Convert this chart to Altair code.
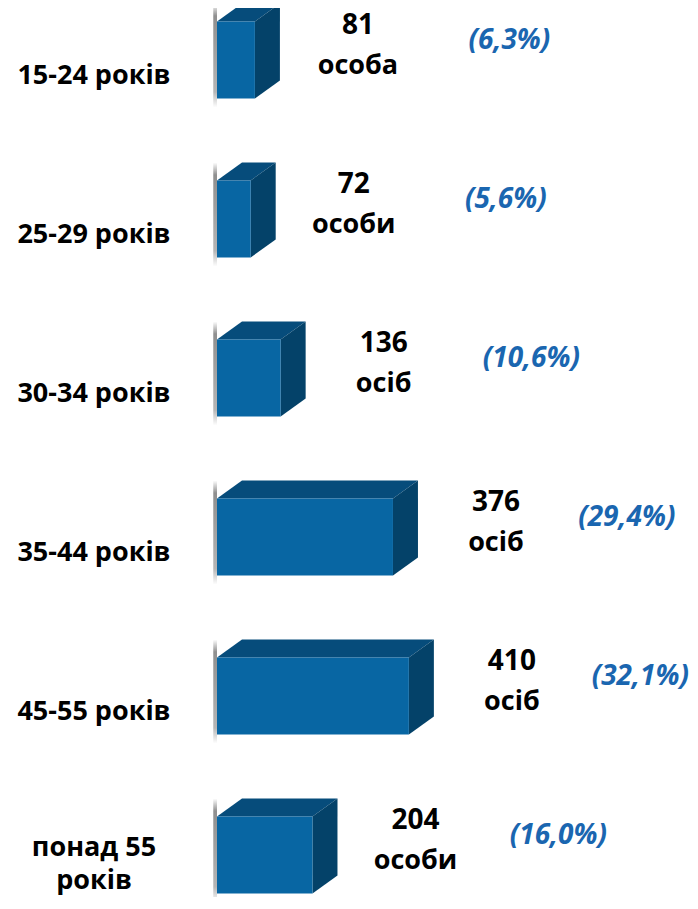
import altair as alt
import pandas as pd

# ---- data ----
categories = ["15-24 років", "25-29 років", "30-34 років", "35-44 років", "45-55 років", "понад 55\nроків"]
counts = [81, 72, 136, 376, 410, 204]
units = ["особа", "особи", "осіб", "осіб", "осіб", "особи"]
shares = ["(6,3%)", "(5,6%)", "(10,6%)", "(29,4%)", "(32,1%)", "(16,0%)"]

df = pd.DataFrame({"cat": categories, "n": counts, "unit": units,
                   "share": shares, "row": list(range(len(categories)))})

FRONT = "#0866A3"
TOP = "#064C7B"
RIGHT = "#044269"
BLUE = "#1A66B0"
FONT = "Open Sans"

W, H = 682, 889
P = 159.0                 # pixels per row
X0 = 209.0                # pixel position of zero count
PXU = 0.468               # pixels per count
R0 = 52.0                 # pixel centre of first bar's front face

DX = 25 / PXU             # 3D depth, in count units
DY = 18 / P               # 3D depth, in row units
HALF = 38.5 / P           # half bar thickness, row units
LH = 33                   # line height of category labels

xs = alt.Scale(domain=[-X0 / PXU, (W - X0) / PXU], nice=False, zero=False)
ys = alt.Scale(domain=[-R0 / P, (H - R0) / P], nice=False, zero=False, reverse=True)

base = alt.Chart(df)

shadow = base.transform_calculate(
    x0="-8", x1="0",
    y0=f"datum.row - {HALF} - {DY}", y1=f"datum.row + {HALF} + {9 / P}"
).mark_rect(color={"gradient": "linear", "x1": 0, "y1": 0, "x2": 0, "y2": 1,
                   "stops": [{"offset": 0, "color": "#ffffff"},
                             {"offset": 0.12, "color": "#8f8f8f"},
                             {"offset": 0.85, "color": "#b5b5b5"},
                             {"offset": 1, "color": "#ffffff"}]}).encode(
    x=alt.X("x0:Q", scale=xs, axis=None), x2="x1:Q",
    y=alt.Y("y0:Q", scale=ys, axis=None), y2="y1:Q")

front = base.transform_calculate(
    z="0", top=f"datum.row - {HALF}", bot=f"datum.row + {HALF}"
).mark_rect(color=FRONT).encode(
    x=alt.X("z:Q", scale=xs, axis=None), x2="n:Q",
    y=alt.Y("top:Q", scale=ys, axis=None), y2="bot:Q")

topface = base.transform_calculate(k="[0, 1]").transform_flatten(["k"]).transform_calculate(
    yy=f"datum.row - {HALF} - datum.k * {DY}",
    xa=f"datum.k * {DX}",
    xb=f"datum.n + datum.k * {DX}"
).mark_area(orient="horizontal", color=TOP).encode(
    y=alt.Y("yy:Q", scale=ys, axis=None),
    x=alt.X("xa:Q", scale=xs, axis=None, stack=None), x2="xb:Q",
    detail="cat:N")

rightface = base.transform_calculate(k="[0, 1]").transform_flatten(["k"]).transform_calculate(
    xx=f"datum.n + datum.k * {DX}",
    ya=f"datum.row - {HALF} - datum.k * {DY}",
    yb=f"datum.row + {HALF} - datum.k * {DY}"
).mark_area(orient="vertical", color=RIGHT).encode(
    x=alt.X("xx:Q", scale=xs, axis=None),
    y=alt.Y("ya:Q", scale=ys, axis=None, stack=None), y2="yb:Q",
    detail="cat:N")

num = base.transform_calculate(
    tx=f"datum.n + {103 / PXU}", ty=f"datum.row - {34 / P}"
).mark_text(font=FONT, fontSize=28, fontWeight="bold", color="#000000",
            align="center", baseline="middle").encode(
    x=alt.X("tx:Q", scale=xs, axis=None), y=alt.Y("ty:Q", scale=ys, axis=None),
    text="n:N")

unit = base.transform_calculate(
    tx=f"datum.n + {103 / PXU}", ty=f"datum.row + {6 / P}"
).mark_text(font=FONT, fontSize=27, fontWeight="bold", color="#000000",
            align="center", baseline="middle").encode(
    x=alt.X("tx:Q", scale=xs, axis=None), y=alt.Y("ty:Q", scale=ys, axis=None),
    text="unit:N")

share = base.transform_calculate(
    tx="datum.n * 0.85 + 556", ty=f"datum.row - {19 / P}"
).mark_text(font=FONT, fontSize=28, fontWeight="bold", fontStyle="italic", color=BLUE,
            align="center", baseline="middle").encode(
    x=alt.X("tx:Q", scale=xs, axis=None), y=alt.Y("ty:Q", scale=ys, axis=None),
    text="share:N")

# multi-line labels flow downward from y: lift them for the extra lines
catlab = base.transform_calculate(
    ty=f"datum.row + {16 / P} - (length(split(datum.cat, '\\n')) - 1) * {0.7 * LH / P}"
).mark_text(font=FONT, fontSize=27, fontWeight="bold", color="#000000",
            align="center", baseline="middle", lineBreak="\n", lineHeight=LH).encode(
    x=alt.value(86), y=alt.Y("ty:Q", scale=ys, axis=None),
    text="cat:N")

chart = alt.layer(shadow, topface, rightface, front, num, unit, share, catlab).properties(
    width=W, height=H, autosize=alt.AutoSizeParams(type="none"), padding=0
).configure_view(stroke=None)

chart.save("out.html", embed_options={"renderer": "svg", "actions": False})
